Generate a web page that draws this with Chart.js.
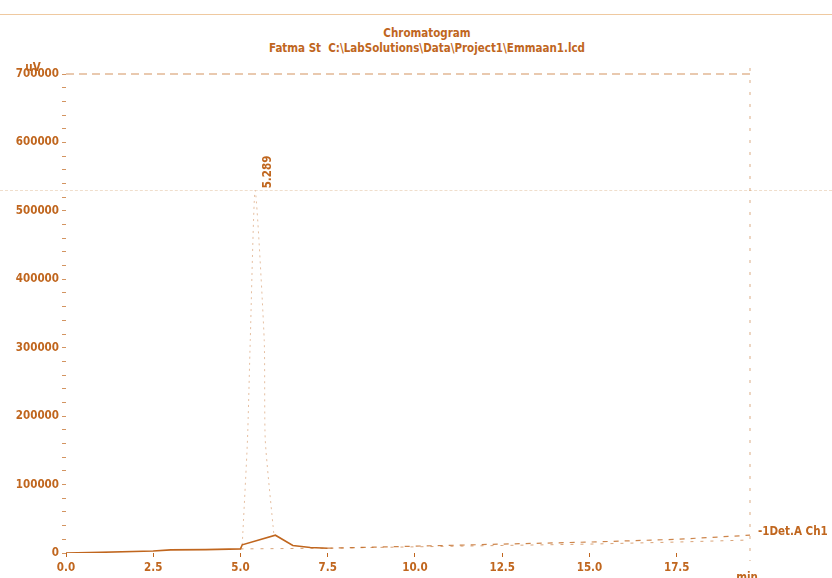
<!DOCTYPE html>
<html>
<head>
<meta charset="utf-8">
<script src="https://cdn.jsdelivr.net/npm/chart.js@4/dist/chart.umd.min.js"></script>
<style>
  html,body{margin:0;padding:0;background:#fff;}
  #wrap{position:relative;width:832px;height:578px;overflow:hidden;}
  #sep{position:absolute;left:0;top:14px;width:832px;height:0;border-top:1px solid #efc9a0;}
  #scan{position:absolute;left:0;top:190px;width:832px;height:0;border-top:1px dashed rgba(230,200,170,0.6);}
  .t{position:absolute;left:0;width:854px;text-align:center;color:#c0661e;font-weight:bold;
     font-family:"DejaVu Sans Condensed","Liberation Sans Narrow",sans-serif;font-size:11.5px;line-height:14px;}
  canvas{position:absolute;left:0;top:0;}
</style>
</head>
<body>
<div id="wrap">
  <div id="sep"></div>
  <div id="scan"></div>
  <div class="t" style="top:26px;">Chromatogram</div>
  <div class="t" style="top:41px;">Fatma St&nbsp; C:\LabSolutions\Data\Project1\Emmaan1.lcd</div>
  <canvas id="c" width="832" height="578"></canvas>
</div>
<script>
// ---- data ----
const traceTime   = [0, 1.0, 2.5, 3.0, 4.0, 5.0, 5.05, 6.0, 6.5, 7.0, 7.5];
const traceSignal = [0, 1000, 3000, 4500, 5000, 6000, 12000, 26000, 11000, 8000, 7000];

const peakTime    = [5.05, 5.2, 5.28, 5.42, 5.68, 5.71, 5.96];
const peakSignal  = [12000, 165000, 311000, 530000, 311000, 165000, 25000];

const tailTime    = [7.5, 10.0, 12.5, 15.0, 17.5, 19.6];
const tailSignal  = [7000, 10000, 13000, 16000, 20000, 26000];

const baseTime    = [5.0, 7.5, 10.0, 12.5, 15.0, 17.5, 19.6];
const baseSignal  = [6000, 7000, 9000, 11000, 13000, 16000, 19000];

const xTicks      = [0, 2.5, 5.0, 7.5, 10.0, 12.5, 15.0, 17.5];
const yLabelTicks = [0, 100000, 200000, 300000, 400000, 500000, 600000, 700000];
const peakLabel   = "5.289";
const detLabel    = "-1Det.A Ch1";

const ORANGE = '#c0661e';
const FONT = '"DejaVu Sans Condensed","Liberation Sans Narrow",sans-serif';

function pts(xs, ys){ return xs.map((x,i)=>({x:x,y:ys[i]})); }

const framePlugin = {
  id:'frame',
  beforeDatasetsDraw(chart){
    const ctx = chart.ctx, ca = chart.chartArea;
    ctx.save();
    ctx.strokeStyle = 'rgba(192,102,30,0.7)';
    ctx.lineWidth = 1.2;
    ctx.setLineDash([8,5]);
    ctx.beginPath(); ctx.moveTo(ca.left, ca.top); ctx.lineTo(ca.right, ca.top); ctx.stroke();
    ctx.strokeStyle = 'rgba(192,102,30,0.55)';
    ctx.lineWidth = 1;
    ctx.setLineDash([3,9]);
    ctx.beginPath(); ctx.moveTo(ca.right, ca.top - 6); ctx.lineTo(ca.right, ca.bottom + 8); ctx.stroke();
    ctx.restore();
  }
};

const textPlugin = {
  id:'texts',
  afterDraw(chart){
    const ctx = chart.ctx, xs = chart.scales.x, ys = chart.scales.y, ca = chart.chartArea;
    ctx.save();
    ctx.fillStyle = ORANGE;
    ctx.font = 'bold 11.5px ' + FONT;
    // peak retention time label (reads bottom to top)
    let iMax = peakSignal.indexOf(Math.max(...peakSignal));
    let px = xs.getPixelForValue(peakTime[iMax]), py = ys.getPixelForValue(peakSignal[iMax]);
    ctx.save();
    ctx.translate(px + 13, py - 2);
    ctx.rotate(-Math.PI/2);
    ctx.textAlign = 'left'; ctx.textBaseline = 'middle';
    ctx.fillText(peakLabel, 0, 0);
    ctx.restore();
    // detector label
    ctx.textAlign = 'left'; ctx.textBaseline = 'middle';
    ctx.fillText(detLabel, ca.right + 8, ys.getPixelForValue(30000));
    // units
    ctx.textAlign = 'center'; ctx.textBaseline = 'middle';
    ctx.fillText('uV', 33, ca.top - 6);
    ctx.textBaseline = 'top';
    ctx.fillText('min', ca.right - 3, ca.bottom + 19);
    ctx.restore();
  }
};

new Chart(document.getElementById('c'), {
  type:'scatter',
  data:{
    datasets:[
      {data:pts(traceTime, traceSignal), showLine:true, borderColor:ORANGE, borderWidth:1.6, pointRadius:0, tension:0},
      {data:pts(peakTime, peakSignal), showLine:true, borderColor:'rgba(220,170,130,0.75)', borderWidth:1, borderDash:[2,4], pointRadius:0, tension:0.2},
      {data:pts(tailTime, tailSignal), showLine:true, borderColor:'rgba(192,102,30,0.8)', borderWidth:1.2, borderDash:[5,6], pointRadius:0, tension:0},
      {data:pts(baseTime, baseSignal), showLine:true, borderColor:'rgba(192,102,30,0.6)', borderWidth:1, borderDash:[3,7], pointRadius:0, tension:0}
    ]
  },
  options:{
    responsive:false, animation:false,
    layout:{padding:{left:0, right:82, top:74, bottom:0}},
    plugins:{legend:{display:false}, tooltip:{enabled:false}, title:{display:false}},
    scales:{
      x:{
        type:'linear', min:0, max:19.6,
        afterBuildTicks(s){ s.ticks = xTicks.map(v=>({value:v})); },
        afterFit(s){ s.height = 25; },
        ticks:{color:ORANGE, font:{family:FONT, size:11.5, weight:'bold'}, padding:4, maxRotation:0, autoSkip:false,
               callback:(v)=>Number(v).toFixed(1)},
        grid:{display:true, drawOnChartArea:false, tickLength:4, color:ORANGE},
        border:{display:false}
      },
      y:{
        type:'linear', min:0, max:700000,
        afterBuildTicks(s){ const t=[]; for(let v=0; v<=700000; v+=20000) t.push({value:v}); s.ticks=t; },
        afterFit(s){ s.width = 66; },
        ticks:{color:ORANGE, font:{family:FONT, size:11.5, weight:'bold'}, padding:3, autoSkip:false,
               callback:(v)=> yLabelTicks.includes(v) ? String(v) : ''},
        grid:{display:true, drawOnChartArea:false, tickLength:4, color:'rgba(192,102,30,0.7)'},
        border:{display:false}
      }
    }
  },
  plugins:[framePlugin, textPlugin]
});
</script>
</body>
</html>
